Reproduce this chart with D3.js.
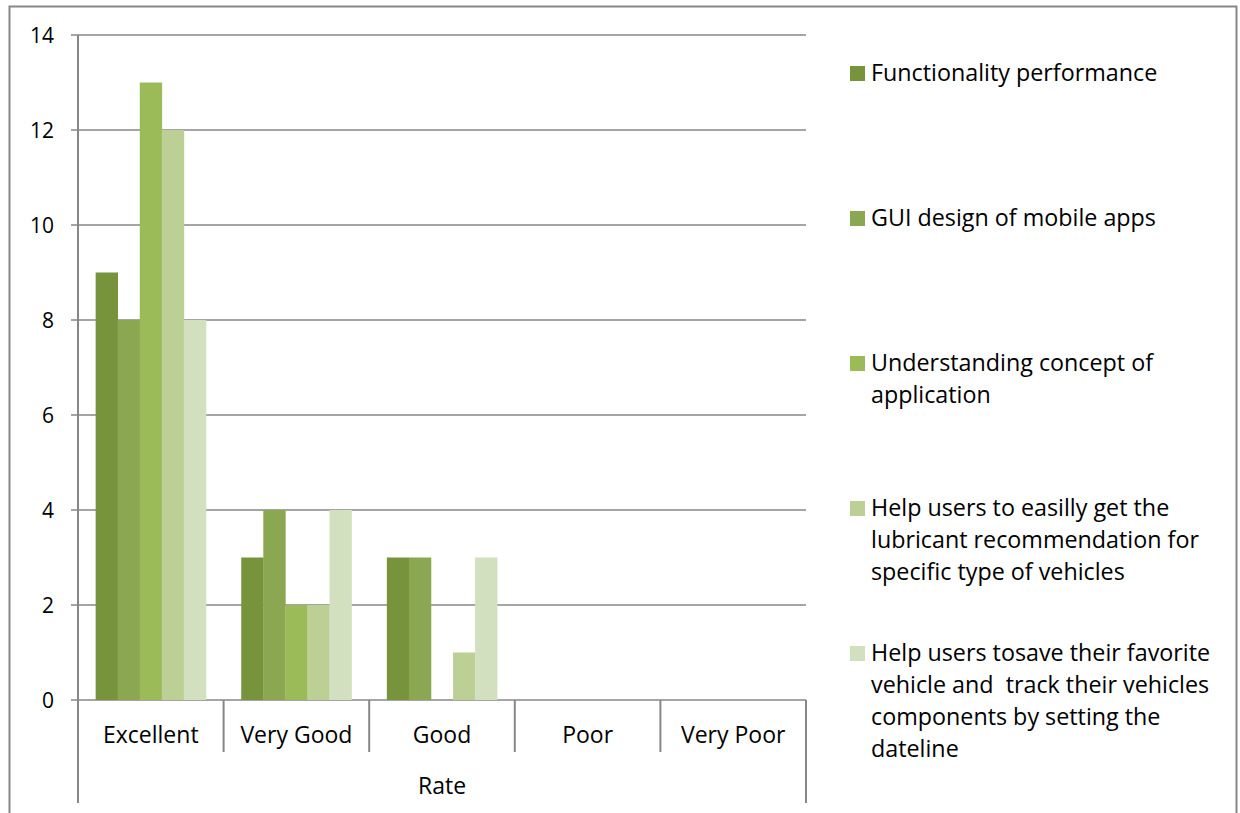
<!DOCTYPE html>
<html><head><meta charset="utf-8">
<script src="https://cdn.jsdelivr.net/npm/d3@7/dist/d3.min.js"></script>
<style>body{margin:0;background:#fff}svg{display:block}text{font-family:"Open Sans",Lato,sans-serif;fill:#000}</style>
</head><body>
<script>
const categories = ["Excellent","Very Good","Good","Poor","Very Poor"];
const seriesNames = [
  "Functionality performance",
  "GUI design of mobile apps",
  "Understanding concept of application",
  "Help users to easilly get the lubricant recommendation for specific type of vehicles",
  "Help users tosave their favorite vehicle and  track their vehicles components by setting the dateline"
];
const legendLines = [
  ["Functionality performance"],
  ["GUI design of mobile apps"],
  ["Understanding concept of","application"],
  ["Help users to easilly get the","lubricant recommendation for","specific type of vehicles"],
  ["Help users tosave their favorite","vehicle and  track their vehicles","components by setting the","dateline"]
];
const functionality = [9,3,3,0,0];
const guiDesign = [8,4,3,0,0];
const understanding = [13,2,0,0,0];
const lubricant = [12,2,1,0,0];
const saveVehicle = [8,4,3,0,0];
const yTicks = [0,2,4,6,8,10,12,14];
const colors = ["#77933C","#8BA751","#9BBB59","#BCD096","#D3E0C0"];
const axisTitle = "Rate";

const series = [functionality, guiDesign, understanding, lubricant, saveVehicle];
const W=1240,H=813;
const svg=d3.select("body").append("svg").attr("width",W).attr("height",H);
const L=78,R=806,T=35,B=700;
const grey="#878787";

// outer border
svg.append("path").attr("d",`M9.5,${H+5}V6.5H1236.5V${H+5}`).attr("fill","none").attr("stroke",grey).attr("stroke-width",2);

const y=d3.scaleLinear().domain([0,14]).range([B,T]);
const x0=d3.scaleBand().domain(categories).range([L,R]).paddingInner(0).paddingOuter(0);
const x1=d3.scaleBand().domain(d3.range(series.length)).range([0,x0.bandwidth()]).paddingOuter(0.8).paddingInner(0);

// gridlines
svg.append("g").selectAll("line").data(yTicks).join("line")
  .attr("x1",L-7).attr("x2",R).attr("y1",d=>y(d)).attr("y2",d=>y(d))
  .attr("stroke",grey).attr("stroke-width",1.6);
svg.append("g").selectAll("text").data(yTicks).join("text")
  .attr("x",54).attr("y",d=>y(d)).attr("dy","0.36em").attr("text-anchor","end")
  .attr("font-size",21).text(d=>d);

// bars
const g=svg.append("g");
series.forEach((vals,si)=>{
  g.selectAll(null).data(vals).join("rect")
   .attr("x",(d,i)=>x0(categories[i])+x1(si))
   .attr("width",x1.bandwidth()+0.3)
   .attr("y",d=>y(d)).attr("height",d=>y(0)-y(d))
   .attr("fill",colors[si]);
});

// y axis line
svg.append("line").attr("x1",L).attr("x2",L).attr("y1",T).attr("y2",803).attr("stroke",grey).attr("stroke-width",2);
// category dividers
const bounds=categories.map(c=>x0(c)).slice(1);
svg.append("g").selectAll("line").data(bounds).join("line")
  .attr("x1",d=>d).attr("x2",d=>d).attr("y1",B).attr("y2",752).attr("stroke",grey).attr("stroke-width",2);
svg.append("line").attr("x1",R).attr("x2",R).attr("y1",B).attr("y2",803).attr("stroke",grey).attr("stroke-width",2);
// category labels
svg.append("g").selectAll("text").data(categories).join("text")
  .attr("x",d=>x0(d)+x0.bandwidth()/2).attr("y",735).attr("dy","0.36em").attr("text-anchor","middle")
  .attr("font-size",23).text(d=>d);
svg.append("text").attr("x",(L+R)/2).attr("y",786).attr("dy","0.36em").attr("text-anchor","middle").attr("font-size",23).text(axisTitle);

// legend
const lg=svg.append("g");
legendLines.forEach((lines,i)=>{
  const cy=73+i*145;
  lg.append("rect").attr("x",850).attr("y",cy-7).attr("width",15).attr("height",15).attr("fill",colors[i]);
  lines.forEach((t,j)=>{
    lg.append("text").attr("x",871).attr("y",cy+j*32).attr("dy","0.36em").attr("font-size",23.3).style("white-space","pre").text(t);
  });
});
</script>
</body></html>
